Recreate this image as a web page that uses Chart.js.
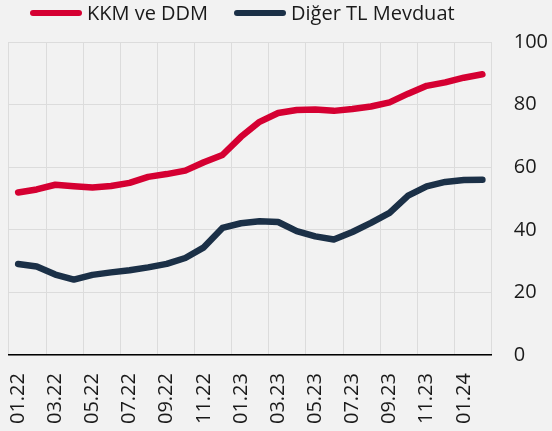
<!DOCTYPE html>
<html>
<head>
<meta charset="utf-8">
<script src="https://cdn.jsdelivr.net/npm/chart.js@4"></script>
<style>
  html, body { margin: 0; padding: 0; background: #f2f2f2; }
  #wrap { position: relative; width: 552px; height: 431px; }
  #legend { position: absolute; top: 0; left: 0; width: 552px; height: 28px; font: 20px "Open Sans", sans-serif; color: #1a1a1a; }
  .item { position: absolute; top: 1px; display: flex; align-items: center; white-space: nowrap; line-height: 24px; }
  .swatch { display: inline-block; width: 52px; height: 6px; border-radius: 3px; margin-right: 5px; }
</style>
</head>
<body>
<div id="wrap">
  <canvas id="chart" width="552" height="431"></canvas>
  <div id="legend"></div>
</div>
<script>
const months = ['01.22','02.22','03.22','04.22','05.22','06.22','07.22','08.22','09.22','10.22','11.22','12.22',
                '01.23','02.23','03.23','04.23','05.23','06.23','07.23','08.23','09.23','10.23','11.23','12.23',
                '01.24','02.24'];
const kkmDdm = [51.9, 52.9, 54.4, 53.9, 53.5, 54.0, 55.0, 56.9, 57.8, 58.9, 61.6, 63.9,
                69.7, 74.5, 77.3, 78.3, 78.4, 78.0, 78.6, 79.4, 80.7, 83.5, 86.0, 87.1,
                88.6, 89.7];
const digerTl = [29.1, 28.3, 25.7, 24.1, 25.6, 26.4, 27.1, 28.0, 29.1, 31.0, 34.4, 40.6,
                 42.1, 42.7, 42.5, 39.6, 37.9, 36.9, 39.3, 42.2, 45.4, 50.9, 53.9, 55.3,
                 55.9, 56.0];
const seriesNames = ['KKM ve DDM', 'Diğer TL Mevduat'];
const seriesColors = ['#d50032', '#1b3047'];
const yTicks = [0, 20, 40, 60, 80, 100];

const gridColor = '#dcdcdc';
const textColor = '#1a1a1a';

// legend above the plot
const legend = document.getElementById('legend');
const legendLeft = [30, 234];
seriesNames.forEach((name, i) => {
  const item = document.createElement('div');
  item.className = 'item';
  item.style.left = legendLeft[i] + 'px';
  item.innerHTML = `<span class="swatch" style="background:${seriesColors[i]}"></span><span>${name}</span>`;
  legend.appendChild(item);
});

const bgPlugin = {
  id: 'bg',
  beforeDraw(chart) {
    const c = chart.ctx;
    c.save();
    c.fillStyle = '#f2f2f2';
    c.fillRect(0, 0, chart.width, chart.height);
    c.restore();
  }
};

const lineStyle = color => ({
  borderColor: color,
  backgroundColor: color,
  borderWidth: 6.5,
  borderCapStyle: 'round',
  borderJoinStyle: 'round',
  pointRadius: 0,
  tension: 0,
  fill: false
});

new Chart(document.getElementById('chart'), {
  type: 'line',
  data: {
    labels: months,
    datasets: [
      { label: seriesNames[0], data: kkmDdm, ...lineStyle(seriesColors[0]) },
      { label: seriesNames[1], data: digerTl, ...lineStyle(seriesColors[1]) }
    ]
  },
  options: {
    responsive: false,
    animation: false,
    layout: { padding: { top: 42, left: 8, right: -18, bottom: -11 } },
    plugins: {
      legend: { display: false },
      tooltip: { enabled: false }
    },
    scales: {
      x: {
        offset: true,
        grid: {
          offset: true,
          drawTicks: false,
          lineWidth: 1,
          color: ctx => (ctx.index === undefined || ctx.index % 2 === 0) ? gridColor : 'rgba(0,0,0,0)'
        },
        border: { color: '#000', width: 1.5 },
        ticks: {
          autoSkip: false,
          minRotation: 90,
          maxRotation: 90,
          padding: 18,
          color: textColor,
          font: { family: 'Open Sans', size: 20 },
          callback: (v, i) => i % 2 === 0 ? months[i] : ''
        }
      },
      y: {
        position: 'right',
        min: yTicks[0],
        max: yTicks[yTicks.length - 1],
        afterBuildTicks: axis => { axis.ticks = yTicks.map(v => ({ value: v })); },
        grid: { color: gridColor, lineWidth: 1, drawTicks: false },
        border: { display: false },
        ticks: {
          padding: 22,
          color: textColor,
          font: { family: 'Open Sans', size: 20 }
        }
      }
    }
  },
  plugins: [bgPlugin]
});
</script>
</body>
</html>
